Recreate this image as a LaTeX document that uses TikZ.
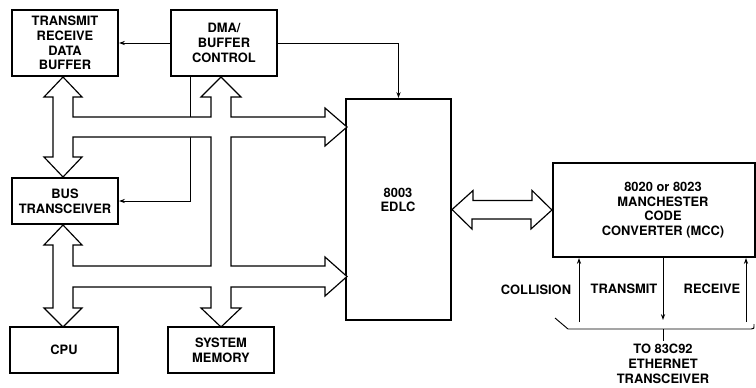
\documentclass[tikz,border=0pt]{standalone}
\usepackage{fontspec}
\setmainfont{TeX Gyre Heros}
\usetikzlibrary{arrows.meta,calc}
\newcommand{\figfont}{\fontsize{11}{12.6}\selectfont\bfseries}

\begin{document}
\begin{tikzpicture}[x=0.03cm,y=-0.03cm,
  blk/.style={draw,line width=1.8pt,inner sep=0pt,align=center,font=\figfont},
  lbl/.style={inner sep=0pt,align=center,font=\figfont},
  fat/.style={draw,line width=1pt,fill=white,line join=miter},
  sig/.style={line width=0.8pt,-{Stealth[length=5pt,width=3.6pt]}}]
  \useasboundingbox (0,0) rectangle (756,387);
  % boxes
  \node[blk,minimum width=3.18cm,minimum height=1.98cm] (trb) at (65,43) {TRANSMIT\\RECEIVE\\DATA\\BUFFER};
  \node[blk,minimum width=3.18cm,minimum height=1.98cm] (dma) at (224,43) {DMA/\\BUFFER\\CONTROL};
  \node[blk,minimum width=3.18cm,minimum height=1.38cm] (bus) at (65,201) {BUS\\TRANSCEIVER};
  \node[blk,minimum width=3.24cm,minimum height=1.38cm] (cpu) at (64,350) {CPU};
  \node[blk,minimum width=3.18cm,minimum height=1.38cm] (mem) at (221,350) {SYSTEM\\MEMORY};
  \node[blk,minimum width=3.15cm,minimum height=6.63cm] (edlc) at (398.5,209.5) {};
  \node[lbl] (edlclbl) at (398,200) {8003\\EDLC};
  \node[blk,minimum width=6.06cm,minimum height=2.82cm] (mcc) at (654,210) {};
  \node[lbl] (mcclbl) at (663,210) {8020 or 8023\\MANCHESTER\\CODE\\CONVERTER (MCC)};
  % control lines
  \draw[sig] (dma.west) -- (trb.east);
  \draw[sig] (dma.east) -| (edlc.north);
  \draw[sig] ($(dma.south west)+(21,0)$) |- (bus.east);
  % data buses
  \draw[fat] (63,77) -- (82,97) -- (73,97) -- (73,117) -- (211,117) -- (211,97) -- (201,97)
    -- (221,77) -- (241,97) -- (231,97) -- (231,117) -- (325,117) -- (325,108) -- (347,127)
    -- (325,146) -- (325,137) -- (231,137) -- (231,266) -- (325,266) -- (325,257) -- (347,276.5)
    -- (325,296) -- (325,287) -- (231,287) -- (231,308) -- (241,308) -- (221,327) -- (201,308)
    -- (211,308) -- (211,287) -- (73,287) -- (73,308) -- (82,308) -- (63,327) -- (44,308)
    -- (53,308) -- (53,245) -- (44,245) -- (63,225) -- (82,245) -- (73,245) -- (73,266)
    -- (211,266) -- (211,137) -- (73,137) -- (73,157) -- (82,157) -- (63,177) -- (44,157)
    -- (53,157) -- (53,97) -- (44,97) -- cycle;
  \draw[fat] (edlc.east) -- ++(21,-19) -- ++(0,10) -- ++(59,0) -- ++(0,-10) -- (mcc.west)
    -- ++(-21,19) -- ++(0,-10) -- ++(-59,0) -- ++(0,10) -- cycle;
  % transceiver side
  \coordinate (colx) at (579,322);
  \coordinate (txx) at (663,320);
  \coordinate (rxx) at (746,322);
  \draw[sig] (colx) -- (colx |- mcc.south);
  \draw[sig] (txx |- mcc.south) -- (txx);
  \draw[sig] (rxx) -- (rxx |- mcc.south);
  \coordinate (tap) at (663,329);
  \draw[line width=0.8pt] (555,318) -- (568,329) -- (751,329) .. controls (754,329) .. (754,324);
  \draw[line width=0.8pt] (tap) -- ++(0,12);
  \node[lbl] (collbl) at (536,290) {COLLISION};
  \node[lbl] (txlbl) at (624,289) {TRANSMIT};
  \node[lbl] (rxlbl) at (712,289) {RECEIVE};
  \node[lbl] (ethlbl) at (663,364) {TO 83C92\\ETHERNET\\TRANSCEIVER};
\end{tikzpicture}
\end{document}
